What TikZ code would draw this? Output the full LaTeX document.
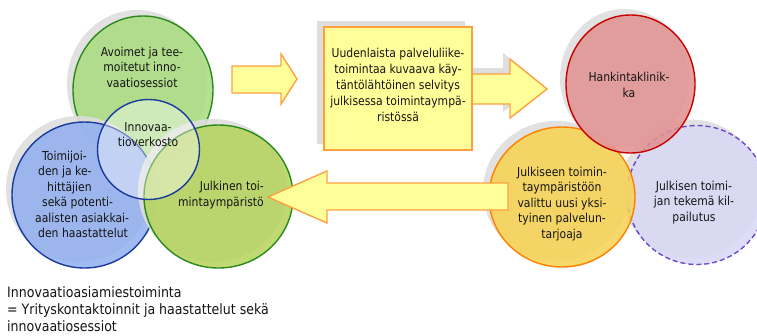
\documentclass[tikz,border=0pt]{standalone}
\usepackage{fontspec}
\setmainfont{DejaVu Sans}[FakeStretch=0.88]
\usetikzlibrary{shapes.geometric}
\definecolor{txt}{HTML}{151515}
\definecolor{shd}{HTML}{DEDEDE}
\definecolor{gfill}{HTML}{A8DC7E}
\definecolor{gline}{HTML}{2A8A1C}
\definecolor{bfill}{HTML}{90AEF0}
\definecolor{bline}{HTML}{1A3A9E}
\definecolor{gtwofill}{HTML}{B5D35A}
\definecolor{rfill}{HTML}{E29090}
\definecolor{rline}{HTML}{C80000}
\definecolor{yfill}{HTML}{F7D250}
\definecolor{yline}{HTML}{FF8000}
\definecolor{lfill}{HTML}{D8D8F6}
\definecolor{lline}{HTML}{7048D0}
\definecolor{afill}{HTML}{FFFF99}
\definecolor{aline}{HTML}{FFA040}
\begin{document}
\begin{tikzpicture}[x=1pt,y=-1pt,
  bub/.style={ellipse, inner sep=0pt, line width=1.4pt, fill opacity=0.85},
  shadowfill/.style={fill=shd, fill opacity=0.9},
  lbl/.style={font=\fontsize{12.3}{15.5}\selectfont, text=txt, align=center, inner sep=0pt},
  blockarrow/.style={fill=afill, draw=aline, line width=1.4pt, line join=miter},
]
\useasboundingbox (0,0) rectangle (757,335);
\fill[white] (0,0) rectangle (757,335);

% left cluster
\fill[shadowfill] (137,84) ellipse [x radius=70, y radius=74];
\node[bub, draw=gline, fill=gfill, minimum width=140pt, minimum height=148pt] (avoimet) at (143,90) {};
\fill[shadowfill] (78.5,189) ellipse [x radius=72.5, y radius=73];
\node[bub, draw=bline, fill=bfill, minimum width=145pt, minimum height=146pt] (haast) at (84.5,195) {};
\fill[shadowfill] (212.5,190.5) ellipse [x radius=74.5, y radius=71.5];
\node[bub, draw=gline, fill=gtwofill, minimum width=149pt, minimum height=143pt] (julkinen) at (218.5,196.5) {};
\node[bub, draw=bline, fill=white, fill opacity=0.4, minimum width=102pt, minimum height=100pt] (verkosto) at (148.5,149.5) {};

\node[lbl] (avoimetT) at (142,67) {Avoimet ja tee-\\moitetut inno-\\vaatiosessiot};
\node[lbl] (verkostoT) at (148,134.5) {Innovaa-\\tioverkosto};
\node[lbl, align=left, anchor=west] (haastT) at (35,194.5) {\hspace*{7pt}Toimijoi-\\\hspace*{3pt}den ja ke-\\\hspace*{12pt}hittäjien\\\hspace*{7pt}sekä potenti-\\aalisten asiakkai-\\\hspace*{3pt}den haastattelut};
\node[lbl, align=right, anchor=east] (julkinenT) at (264,195) {Julkinen toi-\\mintaympäristö};

% arrow 1
\draw[blockarrow] (232,66) -- (281,66) -- (281,54) -- (297,79) -- (281,104) -- (281,93) -- (232,93) -- cycle;

% box and arrow 2
\fill[shd] (317,21) rectangle (465,144);
\fill[shd] (465,68) -- (503,68) -- (503,53) -- (540,83) -- (503,112) -- (503,98) -- (465,98) -- cycle;
\draw[blockarrow] (466,74) -- (510,74) -- (510,59) -- (547,89) -- (510,118) -- (510,104) -- (466,104) -- cycle;
\node[draw=aline, fill=afill, line width=1.4pt, minimum width=148pt, minimum height=123pt, inner sep=0pt] (selvitys) at (398,88.5) {};
\node[lbl, font=\fontsize{12.3}{16}\selectfont] (selvitysT) at (398,85) {Uudenlaista palveluliike-\\toimintaa kuvaava käy-\\täntölähtöinen selvitys\\julkisessa toimintaympä-\\ristössä};

% right cluster
\fill[shadowfill] (691,189) ellipse [x radius=70, y radius=69.5];
\node[bub, draw=lline, fill=lfill, dash pattern=on 5pt off 3pt, minimum width=140pt, minimum height=139pt] (kilpailutus) at (697,195) {};
\fill[shadowfill] (556,191) ellipse [x radius=73, y radius=70];
\node[bub, draw=yline, fill=yfill, minimum width=146pt, minimum height=140pt] (tarjoaja) at (562,197) {};
\fill[shadowfill] (624.5,78) ellipse [x radius=64.5, y radius=69];
\node[bub, draw=rline, fill=rfill, minimum width=129pt, minimum height=138pt] (klinikka) at (630.5,84) {};

\node[lbl] (klinikkaT) at (629,85) {Hankintaklinik-\\ka};
\node[lbl] (tarjoajaT) at (562,204) {Julkiseen toimin-\\taympäristöön\\valittu uusi yksi-\\tyinen palvelun-\\tarjoaja};
\node[lbl] (kilpailutusT) at (694,202.5) {Julkisen toimi-\\jan tekemä kil-\\pailutus};

% arrow 3
\draw[blockarrow] (508,183) -- (327,183) -- (327,171) -- (268,197) -- (327,223) -- (327,210) -- (508,210) -- cycle;

% legend
\node[font=\fontsize{14.3}{17}\selectfont, align=left, anchor=north west, inner sep=0pt, text=txt] (legend) at (7,286) {Innovaatioasiamiestoiminta\\= Yrityskontaktoinnit ja haastattelut sekä\\innovaatiosessiot};
\end{tikzpicture}
\end{document}
